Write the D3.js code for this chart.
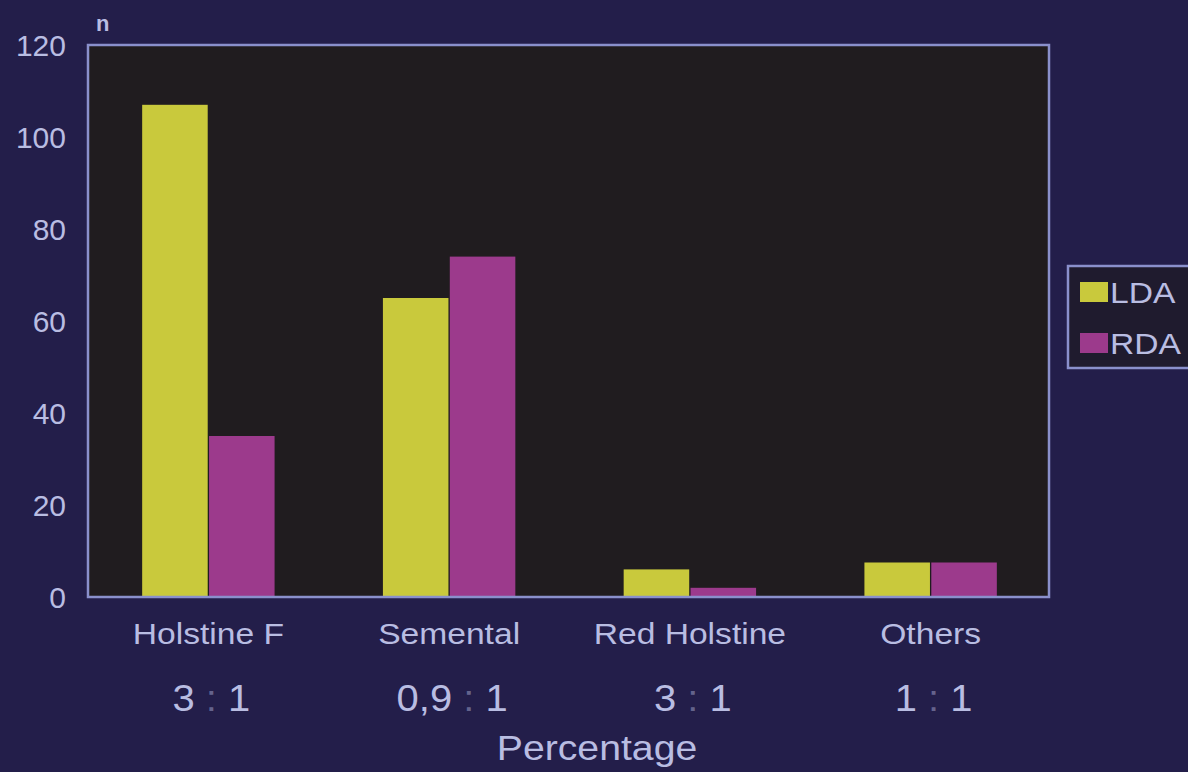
<!DOCTYPE html>
<html>
<head>
<meta charset="utf-8">
<script src="https://cdn.jsdelivr.net/npm/d3@7"></script>
<style>
  html, body { margin: 0; padding: 0; background: #231e4a; }
  svg { display: block; }
  text { font-family: "Liberation Sans", Arial, Helvetica, sans-serif; }
</style>
</head>
<body>
<svg id="chart" width="1188" height="772"></svg>
<script>
// Breed categories and the LDA:RDA ratio printed under each
const categories = ["Holstine F", "Semental", "Red Holstine", "Others"];
const ratioLabels = ["3 : 1", "0,9 : 1", "3 : 1", "1 : 1"];
const seriesNames = ["LDA", "RDA"];
const ldaValues = [107, 65, 6, 7.5];
const rdaValues = [35, 74, 2, 7.5];
const yTicks = [0, 20, 40, 60, 80, 100, 120];

const colors = { LDA: "#c9c93c", RDA: "#9c3a8c" };
const textColor = "#b9bde2";
const frameColor = "#8a90cc";

const svg = d3.select("#chart");
const W = 1188, H = 772;
const plot = { left: 88, top: 45, right: 1049, bottom: 597 };

// widen glyphs horizontally while keeping the anchor point
function stretch(sel, factor) {
  sel.each(function () {
    const w = this.getComputedTextLength();
    d3.select(this)
      .attr("textLength", w * factor)
      .attr("lengthAdjust", "spacingAndGlyphs");
  });
}

svg.append("rect").attr("width", W).attr("height", H).attr("fill", "#231e4a");

const x = d3.scaleBand()
  .domain(categories)
  .range([plot.left, plot.right + 2])
  .paddingInner(0.45)
  .paddingOuter(0.225);

const xs = d3.scaleBand()
  .domain(seriesNames)
  .range([0, x.bandwidth()])
  .paddingInner(0.02);

const y = d3.scaleLinear().domain([0, 120]).range([plot.bottom, plot.top]);

// plot area
svg.append("rect")
  .attr("x", plot.left).attr("y", plot.top)
  .attr("width", plot.right - plot.left)
  .attr("height", plot.bottom - plot.top)
  .attr("fill", "#201c1f");

// bars
const rows = categories.map((c, i) => ({ cat: c, LDA: ldaValues[i], RDA: rdaValues[i] }));
const groups = svg.append("g").selectAll("g").data(rows).join("g")
  .attr("transform", d => `translate(${x(d.cat)},0)`);
groups.selectAll("rect")
  .data(d => seriesNames.map(s => ({ s, v: d[s] })))
  .join("rect")
  .attr("x", d => xs(d.s))
  .attr("width", xs.bandwidth())
  .attr("y", d => y(d.v))
  .attr("height", d => y(0) - y(d.v))
  .attr("fill", d => colors[d.s]);

// frame
svg.append("rect")
  .attr("x", plot.left).attr("y", plot.top)
  .attr("width", plot.right - plot.left)
  .attr("height", plot.bottom - plot.top)
  .attr("fill", "none")
  .attr("stroke", frameColor).attr("stroke-width", 2.5);

// y axis labels
const yAxis = svg.append("g")
  .attr("transform", `translate(${plot.left - 22},0)`)
  .call(d3.axisLeft(y).tickValues(yTicks).tickSize(0).tickPadding(0));
yAxis.select(".domain").remove();
yAxis.selectAll("text")
  .attr("fill", textColor)
  .style("font-size", "30px")
  .attr("dy", "0.36em");

svg.append("text")
  .attr("x", 96).attr("y", 31)
  .attr("fill", textColor)
  .style("font-size", "22px")
  .style("font-weight", "bold")
  .text("n");

// category labels
const xAxis = svg.append("g")
  .attr("transform", `translate(0,${plot.bottom})`)
  .call(d3.axisBottom(x).tickSize(0).tickPadding(0));
xAxis.select(".domain").remove();
xAxis.selectAll("text")
  .attr("fill", textColor)
  .style("font-size", "30px")
  .attr("y", 47)
  .attr("dy", 0)
  .call(stretch, 1.12);

// ratio labels, with a fainter colon
const ratioText = svg.append("g").selectAll("text").data(categories).join("text")
  .attr("x", d => x(d) + x.bandwidth() / 2 + 3)
  .attr("y", 711)
  .attr("text-anchor", "middle")
  .attr("fill", textColor)
  .style("font-size", "37px");
ratioText.each(function (d, i) {
  const parts = ratioLabels[i].split(":");
  const t = d3.select(this);
  t.append("tspan").text(parts[0]);
  t.append("tspan").attr("fill-opacity", 0.45).text(":");
  t.append("tspan").text(parts[1]);
});
ratioText.call(stretch, 1.08);

svg.append("text")
  .attr("x", 597)
  .attr("y", 760)
  .attr("text-anchor", "middle")
  .attr("fill", textColor)
  .style("font-size", "35px")
  .text("Percentage")
  .call(stretch, 1.12);

// legend
const legend = svg.append("g");
legend.append("rect")
  .attr("x", 1068).attr("y", 266)
  .attr("width", 140).attr("height", 102)
  .attr("fill", "#1f1b2e")
  .attr("stroke", frameColor).attr("stroke-width", 2.5);
seriesNames.forEach((s, i) => {
  const cy = 292 + i * 51;
  legend.append("rect")
    .attr("x", 1080).attr("y", cy - 10)
    .attr("width", 28).attr("height", 20)
    .attr("fill", colors[s]);
  legend.append("text")
    .attr("x", 1110).attr("y", cy)
    .attr("dy", "0.36em")
    .attr("fill", textColor)
    .style("font-size", "30px")
    .text(s)
    .call(stretch, 1.12);
});
</script>
</body>
</html>
